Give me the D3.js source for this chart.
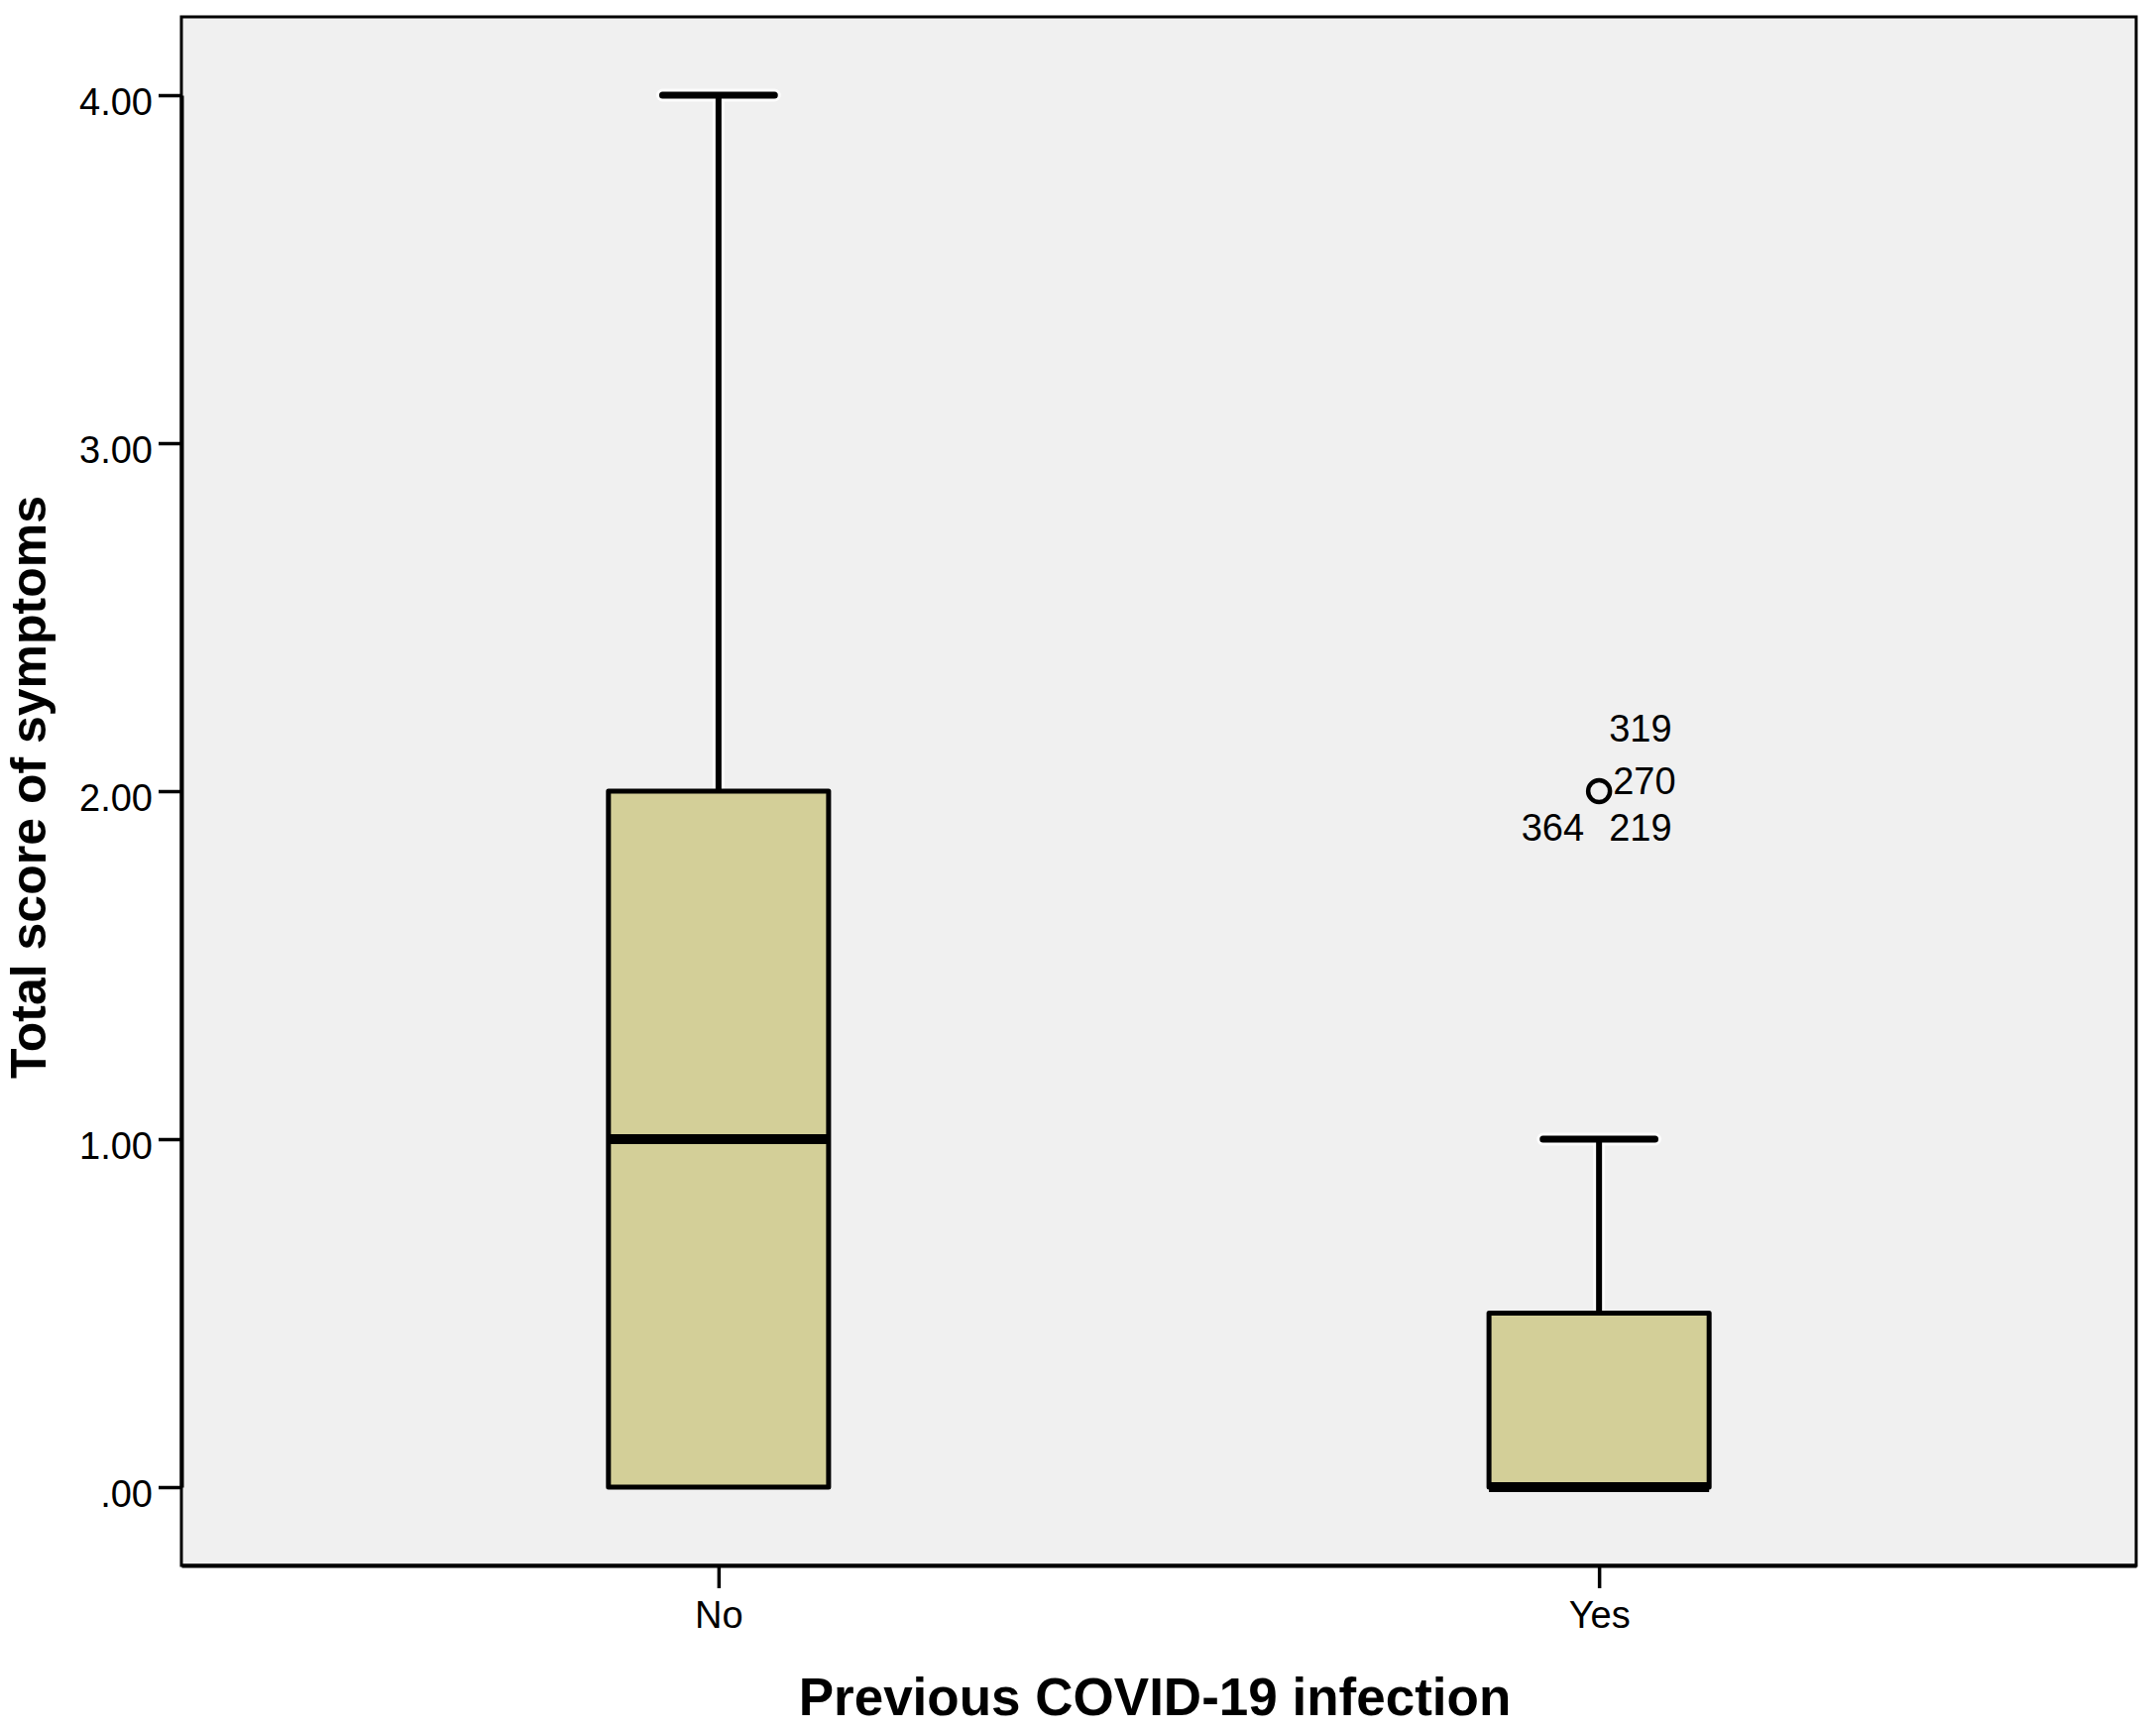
<!DOCTYPE html>
<html><head><meta charset="utf-8">
<script src="https://cdn.jsdelivr.net/npm/d3@7/dist/d3.min.js"></script>
<style>body{margin:0;background:#fff}svg{display:block}</style>
</head><body>
<svg id="c" width="2175" height="1746"></svg>
<script>
const categories = ["No", "Yes"];
const whiskerLow = [0, 0];
const q1 = [0, 0];
const median = [1, 0];
const q3 = [2, 0.5];
const whiskerHigh = [4, 1];
const outlierValues = [null, 2];
const outlierLabels = [[], ["319", "270", "364", "219"]];
const yTicks = [0, 1, 2, 3, 4];
const yTickLabels = [".00", "1.00", "2.00", "3.00", "4.00"];
const xTitle = "Previous COVID-19 infection";
const yTitle = "Total score of symptoms";

const svg = d3.select("#c");
const L = 183, R = 2155, T = 17, B = 1579;
const x = d3.scalePoint().domain(categories).range([L, R]).padding(0.61);
const y = d3.scaleLinear().domain([0, 4]).range([1500, 96]);
const step = x.step();
const boxW = step * 0.25, capW = step * 0.127;

svg.append("rect").attr("x", L).attr("y", T).attr("width", R - L).attr("height", B - T)
  .attr("fill", "#f0f0f0").attr("stroke", "#000").attr("stroke-width", 3);

const font = "'Liberation Sans', Arial, sans-serif";

// y axis
const ya = svg.append("g").attr("transform", `translate(${L},0)`)
  .call(d3.axisLeft(y).tickValues(yTicks).tickSize(23).tickSizeOuter(0).tickPadding(6)
    .tickFormat((d, i) => yTickLabels[i]));
ya.select(".domain").attr("stroke-width", 4);
ya.selectAll(".tick line").attr("stroke-width", 3.5);
ya.selectAll(".tick text").attr("font-family", font).attr("font-size", 38)
  .attr("fill", "#000").attr("dy", "0.5em");

// x axis
const xa = svg.append("g").attr("transform", `translate(0,${B})`)
  .call(d3.axisBottom(x).tickSize(23).tickSizeOuter(0).tickPadding(8));
xa.select(".domain").attr("stroke-width", 4);
xa.selectAll(".tick line").attr("stroke-width", 3.5);
xa.selectAll(".tick text").attr("font-family", font).attr("font-size", 38)
  .attr("fill", "#000").attr("dy", "0.85em");

// boxes
const g = svg.append("g");
categories.forEach((c, i) => {
  const cx = x(c);
  g.append("line").attr("x1", cx).attr("x2", cx).attr("y1", y(q3[i])).attr("y2", y(whiskerHigh[i]))
    .attr("stroke", "#fff").attr("stroke-width", 12).attr("stroke-opacity", 0.8);
  g.append("line").attr("x1", cx - capW / 2).attr("x2", cx + capW / 2)
    .attr("y1", y(whiskerHigh[i])).attr("y2", y(whiskerHigh[i]))
    .attr("stroke", "#fff").attr("stroke-width", 13).attr("stroke-linecap", "round").attr("stroke-opacity", 0.8);
  g.append("line").attr("x1", cx).attr("x2", cx).attr("y1", y(q3[i])).attr("y2", y(whiskerHigh[i]))
    .attr("stroke", "#000").attr("stroke-width", 6);
  g.append("line").attr("x1", cx - capW / 2).attr("x2", cx + capW / 2)
    .attr("y1", y(whiskerHigh[i])).attr("y2", y(whiskerHigh[i]))
    .attr("stroke", "#000").attr("stroke-width", 7).attr("stroke-linecap", "round");
  if (whiskerLow[i] < q1[i]) {
    g.append("line").attr("x1", cx).attr("x2", cx).attr("y1", y(q1[i])).attr("y2", y(whiskerLow[i]))
      .attr("stroke", "#000").attr("stroke-width", 6);
  }
  g.append("rect").attr("x", cx - boxW / 2).attr("y", y(q3[i]))
    .attr("width", boxW).attr("height", y(q1[i]) - y(q3[i]))
    .attr("fill", "#d3cf98").attr("stroke", "#000").attr("stroke-width", 5)
    .attr("stroke-linejoin", "round");
  g.append("line").attr("x1", cx - boxW / 2).attr("x2", cx + boxW / 2)
    .attr("y1", y(median[i])).attr("y2", y(median[i]))
    .attr("stroke", "#000").attr("stroke-width", 10);
  if (outlierValues[i] !== null) {
    const oy = y(outlierValues[i]);
    g.append("circle").attr("cx", cx).attr("cy", oy).attr("r", 11)
      .attr("fill", "none").attr("stroke", "#000").attr("stroke-width", 4.5);
    const labs = outlierLabels[i];
    const pos = [[10, -50, "start"], [14, 3, "start"], [-15, 50, "end"], [10, 50, "start"]];
    labs.forEach((t, k) => {
      g.append("text").attr("x", cx + pos[k][0]).attr("y", oy + pos[k][1])
        .attr("text-anchor", pos[k][2]).attr("font-family", font).attr("font-size", 38)
        .attr("fill", "#000").text(t);
    });
  }
});

// titles
svg.append("text").attr("x", (L + R) / 2 - 4).attr("y", 1730).attr("text-anchor", "middle")
  .attr("font-family", font).attr("font-weight", "bold").attr("font-size", 53)
  .attr("fill", "#000").text(xTitle);
svg.append("text").attr("transform", `translate(46,${(T + B) / 2 - 4}) rotate(-90)`)
  .attr("text-anchor", "middle").attr("font-family", font).attr("font-weight", "bold")
  .attr("font-size", 50).attr("fill", "#000").text(yTitle);
</script>
</body></html>
